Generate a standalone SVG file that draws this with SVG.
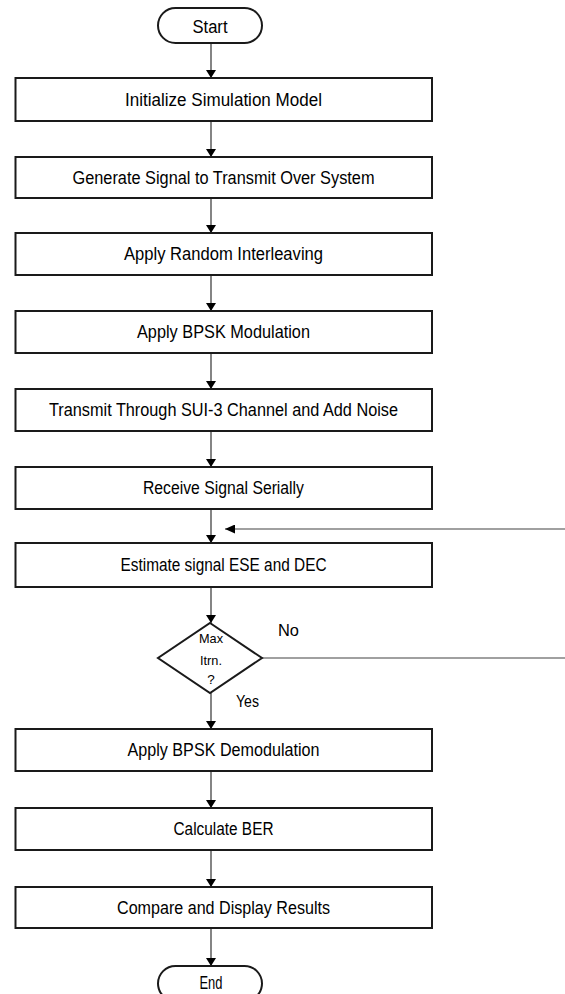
<svg xmlns="http://www.w3.org/2000/svg" width="565" height="994" viewBox="0 0 565 994">
<style>
.box{fill:#fff;stroke:#1a1a1a;stroke-width:2}
.t{font-family:"Liberation Sans",Arial,sans-serif;font-size:17.5px;fill:#000;text-anchor:middle}
.s{font-family:"Liberation Sans",Arial,sans-serif;font-size:13.5px;fill:#000;text-anchor:middle}
.l{font-family:"Liberation Sans",Arial,sans-serif;font-size:17px;fill:#000}
.c{fill:none;stroke:#333;stroke-width:1.2}
.g{fill:none;stroke:#808080;stroke-width:1.6}
</style>
<defs>
<marker id="ah" markerWidth="8" markerHeight="10" refX="8" refY="5" orient="auto" markerUnits="userSpaceOnUse">
<path d="M0,0 L8,5 L0,10 Z" fill="#000"/>
</marker>
<marker id="ahg" markerWidth="10" markerHeight="9" refX="10" refY="4.5" orient="auto" markerUnits="userSpaceOnUse">
<path d="M0,0 L10,4.5 L0,9 Z" fill="#000"/>
</marker>
</defs>
<rect width="565" height="994" fill="#fff"/>
<g id="connectors">
<line class="c" x1="211" y1="43" x2="211" y2="78" marker-end="url(#ah)"/>
<line class="c" x1="211" y1="121" x2="211" y2="157" marker-end="url(#ah)"/>
<line class="c" x1="211" y1="198" x2="211" y2="233" marker-end="url(#ah)"/>
<line class="c" x1="211" y1="275" x2="211" y2="311" marker-end="url(#ah)"/>
<line class="c" x1="211" y1="353" x2="211" y2="389" marker-end="url(#ah)"/>
<line class="c" x1="211" y1="431" x2="211" y2="467" marker-end="url(#ah)"/>
<line class="c" x1="211" y1="509" x2="211" y2="543" marker-end="url(#ah)"/>
<line class="c" x1="211" y1="587" x2="211" y2="623" marker-end="url(#ah)"/>
<line class="c" x1="211" y1="693" x2="211" y2="729" marker-end="url(#ah)"/>
<line class="c" x1="211" y1="771" x2="211" y2="808" marker-end="url(#ah)"/>
<line class="c" x1="211" y1="850" x2="211" y2="887" marker-end="url(#ah)"/>
<line class="c" x1="211" y1="928" x2="211" y2="966" marker-end="url(#ah)"/>
<line class="g" x1="565" y1="529" x2="225" y2="529" marker-end="url(#ahg)"/>
<line class="g" x1="262" y1="658" x2="565" y2="658"/>
<text class="l" x="278" y="636" textLength="21" lengthAdjust="spacingAndGlyphs">No</text>
<text class="l" x="236" y="707" textLength="23" lengthAdjust="spacingAndGlyphs">Yes</text>
</g>
<g id="start">
<rect class="box" x="158" y="8" width="104" height="35" rx="17.5"/>
<text class="t" x="210" y="33" textLength="35" lengthAdjust="spacingAndGlyphs">Start</text>
</g>
<g id="init">
<rect class="box" x="15.5" y="78" width="416.5" height="43"/>
<text class="t" x="223.5" y="106" textLength="197" lengthAdjust="spacingAndGlyphs">Initialize Simulation Model</text>
</g>
<g id="generate">
<rect class="box" x="15.5" y="157" width="416.5" height="41"/>
<text class="t" x="223.5" y="184" textLength="302" lengthAdjust="spacingAndGlyphs">Generate Signal to Transmit Over System</text>
</g>
<g id="interleave">
<rect class="box" x="15.5" y="233" width="416.5" height="42"/>
<text class="t" x="223.5" y="260" textLength="199" lengthAdjust="spacingAndGlyphs">Apply Random Interleaving</text>
</g>
<g id="modulation">
<rect class="box" x="15.5" y="311" width="416.5" height="42"/>
<text class="t" x="223.5" y="338" textLength="173" lengthAdjust="spacingAndGlyphs">Apply BPSK Modulation</text>
</g>
<g id="transmit">
<rect class="box" x="15.5" y="389" width="416.5" height="42"/>
<text class="t" x="223.5" y="416" textLength="349" lengthAdjust="spacingAndGlyphs">Transmit Through SUI-3 Channel and Add Noise</text>
</g>
<g id="receive">
<rect class="box" x="15.5" y="467" width="416.5" height="42"/>
<text class="t" x="223.5" y="494" textLength="161" lengthAdjust="spacingAndGlyphs">Receive Signal Serially</text>
</g>
<g id="estimate">
<rect class="box" x="15.5" y="543" width="416.5" height="44"/>
<text class="t" x="223.5" y="571" textLength="206" lengthAdjust="spacingAndGlyphs">Estimate signal ESE and DEC</text>
</g>
<g id="decision">
<polygon class="box" points="210,623 262,658 210,693 158,658"/>
<text class="s" x="211" y="643" textLength="24" lengthAdjust="spacingAndGlyphs">Max</text>
<text class="s" x="211" y="665" textLength="22" lengthAdjust="spacingAndGlyphs">Itrn.</text>
<text class="s" x="211" y="684">?</text>
</g>
<g id="demodulation">
<rect class="box" x="15.5" y="729" width="416.5" height="42"/>
<text class="t" x="223.5" y="756" textLength="192" lengthAdjust="spacingAndGlyphs">Apply BPSK Demodulation</text>
</g>
<g id="ber">
<rect class="box" x="15.5" y="808" width="416.5" height="42"/>
<text class="t" x="223.5" y="835" textLength="100" lengthAdjust="spacingAndGlyphs">Calculate BER</text>
</g>
<g id="compare">
<rect class="box" x="15.5" y="887" width="416.5" height="41"/>
<text class="t" x="223.5" y="914" textLength="213" lengthAdjust="spacingAndGlyphs">Compare and Display Results</text>
</g>
<g id="end">
<rect class="box" x="158" y="966" width="104" height="35" rx="17.5"/>
<text class="t" x="211" y="989" textLength="23" lengthAdjust="spacingAndGlyphs">End</text>
</g>
</svg>
